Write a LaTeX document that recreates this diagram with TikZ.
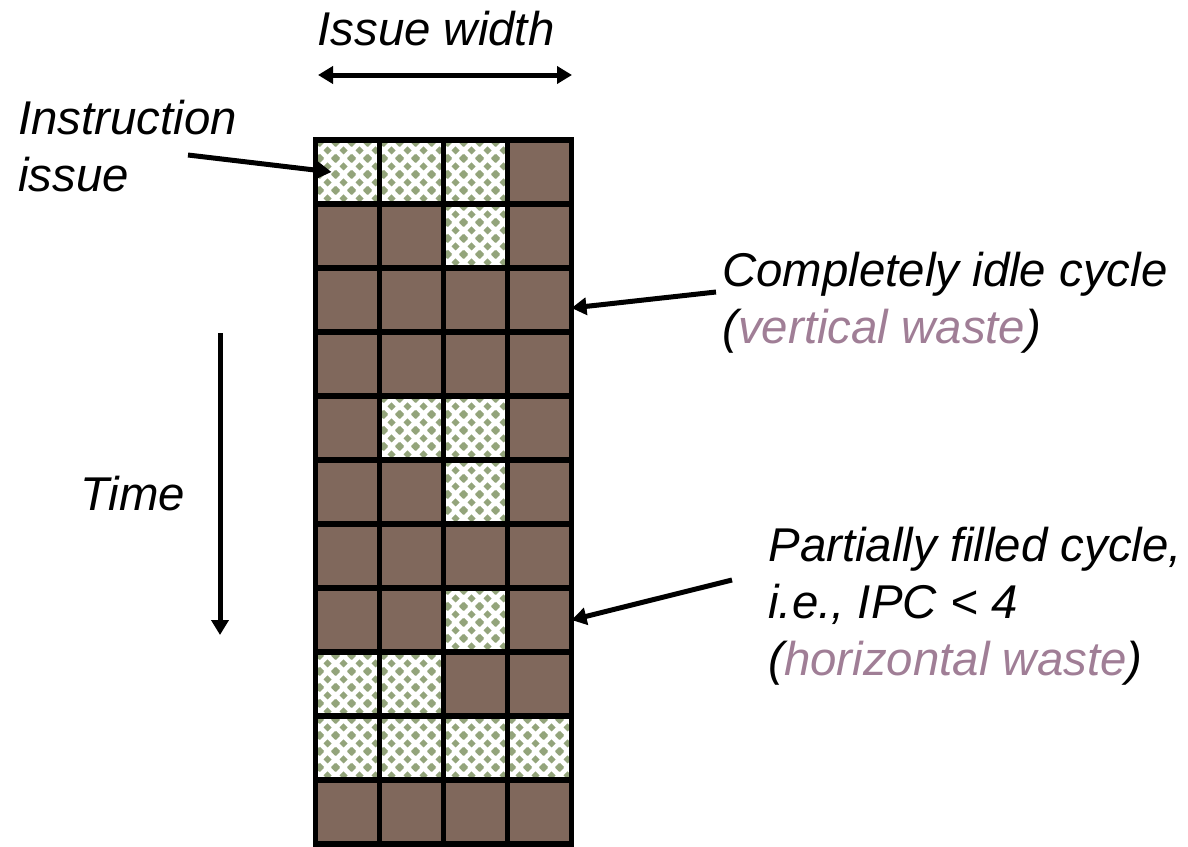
\documentclass[tikz,border=0pt]{standalone}
\usepackage{fontspec}
\setmainfont{Liberation Sans}
\usetikzlibrary{arrows.meta}
\usetikzlibrary{patterns}
\usetikzlibrary{calc}
\definecolor{slotbrown}{RGB}{128,104,92}
\definecolor{slotgreen}{RGB}{147,164,123}
\definecolor{wastepink}{RGB}{160,126,150}
\pgfdeclarepatternformonly{issuedots}{\pgfpointorigin}{\pgfpoint{8pt}{8pt}}{\pgfpoint{8pt}{8pt}}{%
  \foreach \dx/\dy in {0/0,8/0,0/8,8/8,4/4}{%
    \pgfpathmoveto{\pgfpoint{\dx pt-2.1pt}{\dy pt}}%
    \pgfpathlineto{\pgfpoint{\dx pt}{\dy pt+2.1pt}}%
    \pgfpathlineto{\pgfpoint{\dx pt+2.1pt}{\dy pt}}%
    \pgfpathlineto{\pgfpoint{\dx pt}{\dy pt-2.1pt}}%
    \pgfpathclose
    \pgfusepath{fill}}}
\tikzstyle{slot} = [draw, line width=2.75pt, minimum size=32pt, inner sep=0pt, outer sep=0pt]
\tikzstyle{slot-w} = [fill=slotbrown]
\tikzstyle{slot-i} = [pattern=issuedots, pattern color=slotgreen]
\tikzstyle{lbl} = [font=\itshape\fontsize{23.7}{28.5}\selectfont, inner sep=0pt, align=left]
\tikzstyle{pointer} = [line width=2.5pt, -{Triangle[length=7.5pt, width=8.5pt]}]

\begin{document}
\begin{tikzpicture}[x=0.5pt, y=-0.5pt]
  \useasboundingbox (0,0) rectangle (1188,846);

  % issue slots, one row per cycle
  \foreach \row [count=\r] in {{i,i,i,w},{w,w,i,w},{w,w,w,w},{w,w,w,w},{w,i,i,w},{w,w,i,w},
                               {w,w,w,w},{w,w,i,w},{i,i,w,w},{i,i,i,i},{w,w,w,w}}
    \foreach \k [count=\c] in \row
      \node[slot, slot-\k] (c-\r-\c) at (283.5+64*\c, 108+64*\r) {};

  \node[lbl, anchor=base] (width) at (436,45) {Issue width};
  \node[lbl, anchor=north west] (instr) at (18,100) {Instruction\\issue};
  \node[lbl, anchor=base west] (time) at (80,510) {Time};
  \node[lbl, anchor=north west] (idle) at (722,252) {Completely idle cycle\\(\textcolor{wastepink}{vertical waste})};
  \node[lbl, anchor=north west] (partial) at (768,527) {Partially filled cycle,\\i.e., IPC < 4\\(\textcolor{wastepink}{horizontal waste})};

  \coordinate (width-l) at (318,75);
  \coordinate (width-r) at (572,75);
  \coordinate (time-top) at (220,333);
  \coordinate (time-end) at (220,635);
  \coordinate (instr-tail) at (188,155);
  \coordinate (idle-tail) at (716,292);
  \coordinate (partial-tail) at (732,580);

  \draw[pointer, {Triangle[length=7.5pt, width=8.5pt]}-{Triangle[length=7.5pt, width=8.5pt]}] (width-l) -- (width-r);
  \draw[pointer] (time-top) -- (time-end);
  \draw[pointer] (instr-tail) -- ([xshift=8pt]c-1-1.west);
  \draw[pointer] (idle-tail) -- ([yshift=-4pt]c-3-4.east);
  \draw[pointer] (partial-tail) -- (c-8-4.east);
\end{tikzpicture}
\end{document}
